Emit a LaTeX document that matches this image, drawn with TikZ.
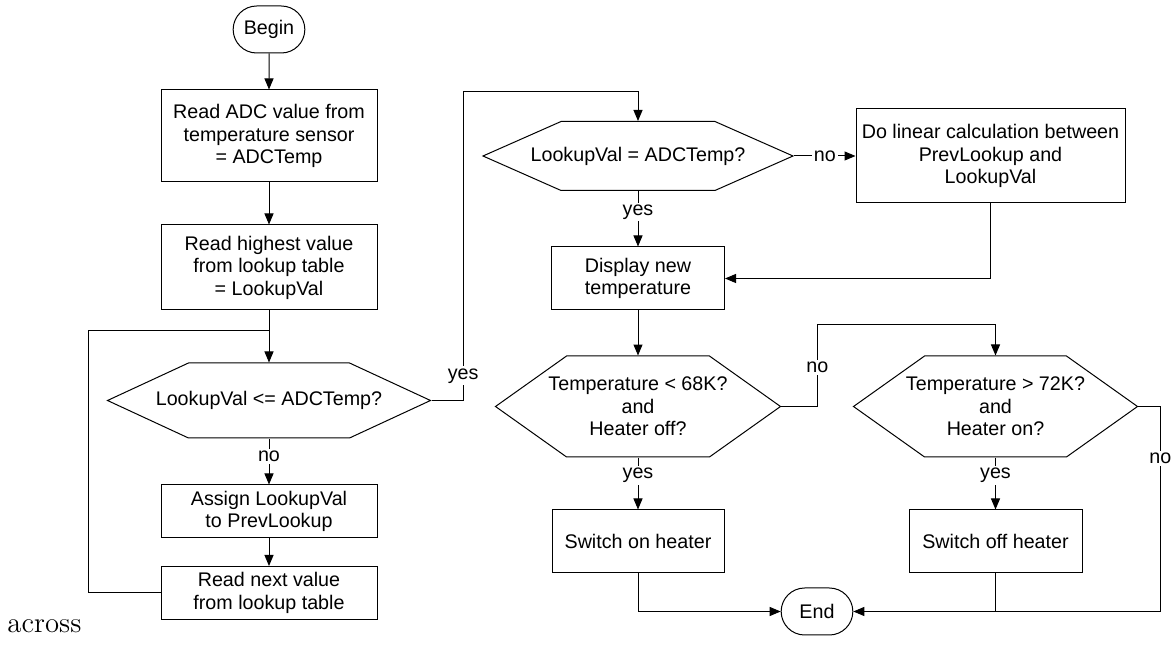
\documentclass[tikz,border=0pt]{standalone}
\usepackage{fontspec}
\usepackage{tikz}
\usetikzlibrary{shapes.misc,shapes.symbols,arrows.meta}
\newfontfamily\chartfont{Liberation Sans}

\tikzset{
  block/.style={draw=black, rectangle, align=center, inner sep=1pt},
  terminal/.style={draw=black, rounded rectangle, minimum width=42.5pt, minimum height=23.5pt},
  decision/.style={draw=black, signal, signal to=east and west, inner sep=0pt},
  flow/.style={-{Triangle[length=5.5pt,width=4.5pt]}},
  answer/.style={fill=white, inner sep=1pt},
}

\begin{document}
\begin{tikzpicture}[x=0.5pt, y=-0.5pt, line width=0.5pt,
    font=\chartfont\fontsize{9.85}{11.25}\selectfont]
  \useasboundingbox (0,0) rectangle (1174,646);

  \node[terminal] (begin) at (269,29.5) {Begin};
  \node[block, minimum width=108pt, minimum height=46pt] (readadc) at (269,136)
    {Read ADC value from\\temperature sensor\\= ADCTemp};
  \node[block, minimum width=108pt, minimum height=42.5pt] (readmax) at (269,267.5)
    {Read highest value\\from lookup table\\= LookupVal};
  \node[decision, minimum width=161.5pt, minimum height=37.5pt, signal pointer angle=49.7,
    label=center:{LookupVal <= ADCTemp?}] (cmpless) at (269,400.5) {};
  \node[block, minimum width=108pt, minimum height=26.5pt] (assign) at (269,511.5)
    {Assign LookupVal\\to PrevLookup};
  \node[block, minimum width=108pt, minimum height=26.5pt] (readnext) at (269,593)
    {Read next value\\from lookup table};
  \coordinate (merge) at (269,331);

  \node[decision, minimum width=155pt, minimum height=34.5pt, signal pointer angle=47.7,
    label=center:{LookupVal = ADCTemp?}] (cmpeq) at (638,156) {};
  \node[block, minimum width=134.5pt, minimum height=47pt] (linear) at (990.5,156)
    {Do linear calculation between\\PrevLookup and\\LookupVal};
  \node[block, minimum width=86.5pt, minimum height=31.5pt] (display) at (638,278.5)
    {Display new\\temperature};

  \node[decision, minimum width=142.5pt, minimum height=50.5pt, signal pointer angle=70.8,
    label={[align=center]center:{Temperature < 68K?\\and\\Heater off?}}] (cold) at (638,406.5) {};
  \node[decision, minimum width=142pt, minimum height=50.5pt, signal pointer angle=70.8,
    label={[align=center]center:{Temperature > 72K?\\and\\Heater on?}}] (hot) at (995.5,406.5) {};
  \node[block, minimum width=86pt, minimum height=31.5pt] (heaton) at (638,541.5)
    {Switch on heater};
  \node[block, minimum width=86.5pt, minimum height=31.5pt] (heatoff) at (995.5,541.5)
    {Switch off heater};
  \node[terminal] (stop) at (817,611.5) {End};

  \node[anchor=base west, inner sep=0pt, font=\normalfont\fontsize{14.4}{17}\selectfont]
    (across) at (7,633) {across};

  \draw[flow] (begin) -- (readadc);
  \draw[flow] (readadc) -- (readmax);
  \draw[flow] (readmax) -- (cmpless);
  \draw[flow] (cmpless) -- node[answer, pos=0.39]{no} (assign);
  \draw[flow] (assign) -- (readnext);
  \draw (readnext.west) -- ++(-72,0) |- (merge);
  \draw[flow] (cmpless.east) -- ++(31.5,0) -- node[answer, pos=0.08]{yes} ++(0,-308.5) -| (cmpeq.north);

  \draw[flow] (cmpeq.east) -- node[answer]{no} (linear.west);
  \draw[flow] (cmpeq) -- node[answer, pos=0.38]{yes} (display);
  \draw[flow] (linear.south) |- (display.east);
  \draw[flow] (display) -- (cold);

  \draw[flow] (cold.east) -- ++(36,0) -- node[answer, pos=0.48]{no} ++(0,-82) -| (hot.north);
  \draw[flow] (cold) -- node[answer, pos=0.34]{yes} (heaton);
  \draw[flow] (hot) -- node[answer, pos=0.34]{yes} (heatoff);
  \draw[flow] (heaton.south) |- (stop.west);
  \draw[flow] (hot.east) -- ++(22,0) |- node[answer, pos=0.127]{no} (stop.east);
  \draw (heatoff.south) -- (heatoff.south |- stop.east);
\end{tikzpicture}
\end{document}
